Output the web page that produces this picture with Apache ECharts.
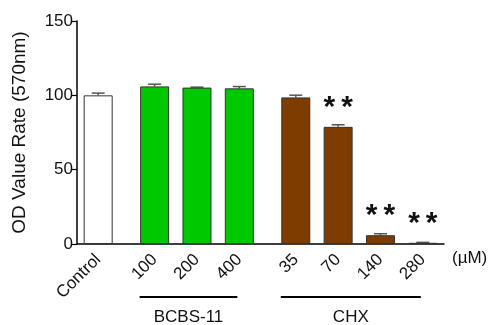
<!DOCTYPE html>
<html><head><meta charset="utf-8">
<script src="https://cdn.jsdelivr.net/npm/echarts@6/dist/echarts.min.js"></script>
<style>html,body{margin:0;padding:0;background:#fff}#c{width:490px;height:325px}</style>
</head><body><div id="c"></div>
<script>
const categories = ['Control', '100', '200', '400', '35', '70', '140', '280'];
const groups = ['', 'BCBS-11', 'BCBS-11', 'BCBS-11', 'CHX', 'CHX', 'CHX', 'CHX'];
const values = [100, 106, 105.2, 104.7, 98.6, 78.8, 5.9, 0.8];
const errors = [1.5, 1.5, 0.3, 1.2, 1.5, 1.4, 1.0, 0.3];
const signif = ['', '', '', '', '', '**', '**', '**'];
const yTicks = [0, 50, 100, 150];
const groupNames = ['BCBS-11', 'CHX'];
const unitLabel = '(\u00b5M)';
const yTitle = 'OD Value Rate (570nm)';

const FONT = 'Liberation Sans, Arial, sans-serif';
const groupColor = {'': '#ffffff', 'BCBS-11': '#00c800', 'CHX': '#7f3c00'};

// slot layout: spacer slots between bars (wider gap between groups)
const slots = [];
let idx = 1;
categories.forEach((c, i) => {
  if (i > 0) idx += (groups[i] !== groups[i - 1]) ? 4 : 3;
  slots.push(idx);
});
const nSlots = idx + 2;
const axisData = new Array(nSlots).fill('');
categories.forEach((c, i) => { axisData[slots[i]] = c; });

const barData = new Array(nSlots).fill('-');
const errData = [];
categories.forEach((c, i) => {
  barData[slots[i]] = {
    value: values[i],
    itemStyle: {color: groupColor[groups[i]]},
    label: {show: !!signif[i], formatter: signif[i].split('').join('\u2009')}
  };
  errData.push([slots[i], values[i], errors[i]]);
});

const chart = echarts.init(document.getElementById('c'));
chart.setOption({
  animation: false,
  grid: {left: 77, right: 46, top: 21, bottom: 81},
  xAxis: {
    type: 'category', data: axisData,
    axisLine: {lineStyle: {color: '#000', width: 1.5}},
    axisTick: {alignWithLabel: true, length: 6, lineStyle: {color: '#000', width: 1.2},
      interval: (i) => axisData[i] !== ''},
    axisLabel: {interval: 0, rotate: 45, margin: 13, fontSize: 17, color: '#111', fontFamily: FONT}
  },
  yAxis: {
    type: 'value', min: yTicks[0], max: yTicks[yTicks.length - 1], interval: 50,
    splitLine: {show: false},
    axisLine: {show: true, lineStyle: {color: '#000', width: 1.5}},
    axisTick: {show: true, length: 5, lineStyle: {color: '#000', width: 1.2}},
    axisLabel: {fontSize: 17, color: '#111', fontFamily: FONT, margin: 4},
    name: yTitle, nameLocation: 'middle', nameGap: 48,
    nameTextStyle: {fontSize: 19, color: '#111', fontFamily: FONT}
  },
  series: [{
    type: 'bar', data: barData, barWidth: 29,
    itemStyle: {borderColor: '#333', borderWidth: 1},
    label: {position: 'top', distance: 4, fontSize: 30, fontWeight: 'bold', color: '#111', fontFamily: FONT}
  }, {
    type: 'custom', data: errData,
    renderItem: (params, api) => {
      const x = api.value(0), v = api.value(1), e = api.value(2);
      const p0 = api.coord([x, v]);
      const p1 = api.coord([x, v + e]);
      return {type: 'group', children: [
        {type: 'line', shape: {x1: p0[0], y1: p0[1], x2: p1[0], y2: p1[1]}, style: {stroke: '#555', lineWidth: 1.5}},
        {type: 'line', shape: {x1: p1[0] - 6.5, y1: p1[1], x2: p1[0] + 6.5, y2: p1[1]}, style: {stroke: '#555', lineWidth: 1.5}}
      ]};
    }
  }]
});

// group brackets under the axis, positioned from the axis scale
const graphics = [];
groupNames.forEach(g => {
  const idxs = categories.map((c, i) => i).filter(i => groups[i] === g);
  const xa = chart.convertToPixel({xAxisIndex: 0}, slots[idxs[0]]) - 15;
  const xb = chart.convertToPixel({xAxisIndex: 0}, slots[idxs[idxs.length - 1]]) - 2;
  graphics.push({type: 'line', shape: {x1: xa, y1: 297, x2: xb, y2: 297}, style: {stroke: '#000', lineWidth: 2}});
  graphics.push({type: 'text', x: (xa + xb) / 2, y: 317,
    style: {text: g, fontSize: 17, fill: '#111', fontFamily: FONT, align: 'center', verticalAlign: 'middle'}});
});
graphics.push({type: 'text', x: 452, y: 258,
  style: {text: unitLabel, fontSize: 17, fill: '#111', fontFamily: FONT, align: 'left', verticalAlign: 'middle'}});
chart.setOption({graphic: graphics});
</script></body></html>
